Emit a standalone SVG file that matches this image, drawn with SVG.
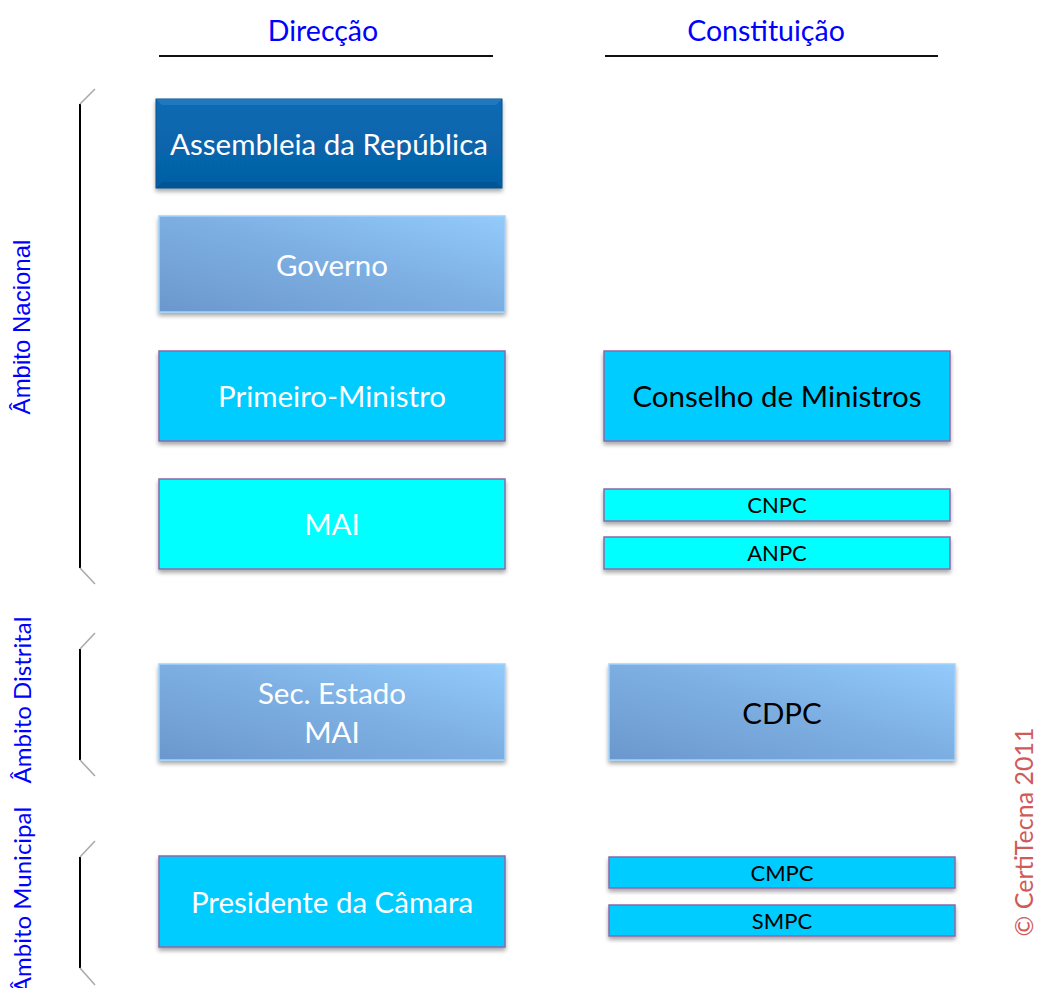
<svg xmlns="http://www.w3.org/2000/svg" width="1037" height="988" viewBox="0 0 1037 988">
  <defs>
    <filter id="shadow" x="-5%" y="-10%" width="110%" height="130%">
      <feDropShadow dx="0" dy="3" stdDeviation="2" flood-color="#000" flood-opacity="0.35"/>
    </filter>
    <linearGradient id="steel" x1="0" y1="1" x2="1" y2="0">
      <stop offset="0" stop-color="#6b98cc"/>
      <stop offset="0.55" stop-color="#7eb0e4"/>
      <stop offset="1" stop-color="#93cbfb"/>
    </linearGradient>
    <linearGradient id="navy" x1="0" y1="0" x2="0" y2="1">
      <stop offset="0" stop-color="#0a6ab4"/>
      <stop offset="1" stop-color="#0560a4"/>
    </linearGradient>
  </defs>
  <style>
    .hdr { font-family: "Lato", "Open Sans", sans-serif; font-size: 28.5px; fill: #0000ff; text-anchor: middle; }
    .rule { stroke: #111; stroke-width: 2; }
    .brk { stroke: #000; stroke-width: 2; fill: none; }
    .tick { stroke: #a8a8a8; stroke-width: 1.5; fill: none; }
    .side { font-family: "Lato", "Open Sans", sans-serif; font-size: 24px; fill: #0000ff; text-anchor: middle; }
    .box { stroke: #8a6aa8; stroke-width: 1.5; filter: url(#shadow); }
    .soft { stroke: #a4d2fa; stroke-width: 1.5; filter: url(#shadow); }
    .t { font-family: "Lato", "Open Sans", sans-serif; font-size: 29.5px; text-anchor: middle; dominant-baseline: central; }
    .ts { font-family: "Lato", "Open Sans", sans-serif; font-size: 22px; text-anchor: middle; dominant-baseline: central; fill: #000; }
    .w { fill: #fff; }
    .k { fill: #000; }
  </style>

  <!-- column headings -->
  <g id="headings">
    <text class="hdr" x="323" y="41">Direcção</text>
    <line class="rule" x1="159" y1="56" x2="493" y2="56"/>
    <text class="hdr" x="766" y="41">Constituição</text>
    <line class="rule" x1="605" y1="56" x2="938" y2="56"/>
  </g>

  <!-- level brackets and labels -->
  <g id="levels">
    <line class="brk" x1="80" y1="104" x2="80" y2="568"/>
    <path class="tick" d="M80 104 L95 89 M80 568 L95 584"/>
    <text class="side" style="font-family:'Liberation Sans',Arial,sans-serif;font-size:24px" transform="translate(30 327) rotate(-90)">Âmbito Nacional</text>

    <line class="brk" x1="80" y1="649" x2="80" y2="760"/>
    <path class="tick" d="M80 649 L95 633 M80 760 L95 776"/>
    <text class="side" transform="translate(31 700) rotate(-90)">Âmbito Distrital</text>

    <line class="brk" x1="80" y1="857" x2="80" y2="968"/>
    <path class="tick" d="M80 857 L95 841 M80 968 L95 985"/>
    <text class="side" transform="translate(31 900) rotate(-90)">Âmbito Municipal</text>
  </g>

  <!-- Direcção column -->
  <g id="assembleia">
    <rect x="156" y="99" width="346" height="89" fill="url(#navy)" stroke="#0a4f8a" stroke-width="1" filter="url(#shadow)"/>
    <path d="M156 99 L502 99 L496 105 L162 105 Z" fill="#2a84c8" opacity="0.6"/>
    <path d="M156 188 L502 188 L496 182 L162 182 Z" fill="#034a80" opacity="0.5"/>
    <text class="t w" x="329" y="143">Assembleia da República</text>
  </g>
  <g id="governo">
    <rect class="soft" x="159" y="216" width="346" height="96" fill="url(#steel)"/>
    <text class="t w" x="332" y="264">Governo</text>
  </g>
  <g id="primeiro-ministro">
    <rect class="box" x="159" y="351" width="346" height="90" fill="#00ccff"/>
    <text class="t w" x="332" y="395">Primeiro-Ministro</text>
  </g>
  <g id="mai">
    <rect class="box" x="159" y="479" width="346" height="90" fill="#00ffff"/>
    <text class="t w" x="332" y="523">MAI</text>
  </g>
  <g id="sec-estado">
    <rect class="soft" x="159" y="664" width="346" height="96" fill="url(#steel)"/>
    <text class="t w" x="332" y="692">Sec. Estado</text>
    <text class="t w" x="332" y="731">MAI</text>
  </g>
  <g id="presidente-camara">
    <rect class="box" x="159" y="856" width="346" height="91" fill="#00ccff"/>
    <text class="t w" x="332" y="901">Presidente da Câmara</text>
  </g>

  <!-- Constituição column -->
  <g id="conselho-ministros">
    <rect class="box" x="604" y="351" width="346" height="90" fill="#00ccff"/>
    <text class="t k" x="777" y="395">Conselho de Ministros</text>
  </g>
  <g id="cnpc">
    <rect class="box" x="604" y="489" width="346" height="32" fill="#00ffff"/>
    <text class="ts" x="777" y="504">CNPC</text>
  </g>
  <g id="anpc">
    <rect class="box" x="604" y="537" width="346" height="32" fill="#00ffff"/>
    <text class="ts" x="777" y="552">ANPC</text>
  </g>
  <g id="cdpc">
    <rect class="soft" x="609" y="664" width="346" height="96" fill="url(#steel)"/>
    <text class="t k" x="782" y="712">CDPC</text>
  </g>
  <g id="cmpc">
    <rect class="box" x="609" y="857" width="346" height="31" fill="#00ccff"/>
    <text class="ts" x="782" y="872">CMPC</text>
  </g>
  <g id="smpc">
    <rect class="box" x="609" y="905" width="346" height="31" fill="#00ccff"/>
    <text class="ts" x="782" y="920">SMPC</text>
  </g>

  <g id="connectors"></g>

  <!-- copyright -->
  <text x="0" y="0" transform="translate(1033 832) rotate(-90)" style="font-family:'Lato','Open Sans',sans-serif;font-size:25px;fill:#cf5a58;text-anchor:middle">© CertiTecna 2011</text>
</svg>
